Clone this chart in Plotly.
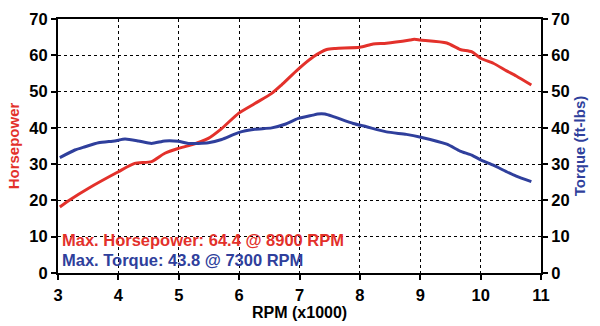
import plotly.graph_objects as go

rpm_hp = [3.03, 3.2, 3.5, 4.0, 4.27, 4.55, 4.77, 4.99, 5.21, 5.49, 5.71, 5.99, 6.26, 6.54, 6.70, 6.98,
          7.23, 7.45, 7.6, 8.0, 8.22, 8.44, 8.83, 8.9, 9.0, 9.44, 9.66, 9.85, 10.01, 10.21, 10.43, 10.59, 10.84]
hp = [18.2, 20.2, 23.3, 27.9, 30.2, 30.7, 33.0, 34.3, 35.3, 37.1, 39.8, 44.0, 46.7, 49.5, 51.8, 56.2,
      59.6, 61.6, 61.9, 62.2, 63.1, 63.3, 64.2, 64.4, 64.2, 63.4, 61.6, 61.0, 59.1, 57.8, 55.7, 54.3, 51.8]

rpm_tq = [3.03, 3.28, 3.45, 3.67, 3.94, 4.11, 4.33, 4.55, 4.77, 4.99, 5.16, 5.49, 5.71, 5.99, 6.26, 6.54,
          6.76, 6.98, 7.22, 7.3, 7.42, 7.56, 7.89, 8.11, 8.44, 8.77, 8.99, 9.44, 9.66, 9.85, 10.01, 10.21,
          10.43, 10.59, 10.84]
torque = [31.8, 33.9, 34.8, 35.9, 36.4, 36.9, 36.4, 35.7, 36.4, 36.3, 35.7, 35.9, 36.8, 38.7, 39.6, 40.0,
          41.0, 42.6, 43.5, 43.8, 43.8, 43.1, 41.2, 40.3, 38.9, 38.2, 37.5, 35.5, 33.6, 32.5, 31.1, 29.7,
          27.9, 26.7, 25.2]

x_ticks = [3, 4, 5, 6, 7, 8, 9, 10, 11]
y_ticks = [0, 10, 20, 30, 40, 50, 60, 70]

RED = "#e3312b"
BLUE = "#2f3f9c"
FONT = "Liberation Sans, Arial, sans-serif"

fig = go.Figure()
fig.add_trace(go.Scatter(x=rpm_hp, y=hp, mode="lines", line=dict(color=RED, width=3, shape="spline", smoothing=0.6),
                         showlegend=False))
fig.add_trace(go.Scatter(x=rpm_tq, y=torque, mode="lines", line=dict(color=BLUE, width=3, shape="spline", smoothing=0.6),
                         showlegend=False, yaxis="y2"))

axis_common = dict(
    showline=True, linecolor="black", linewidth=2,
    ticks="outside", ticklen=5, tickwidth=1.5, tickcolor="black",
    tickfont=dict(family=FONT, size=16.5, color="black", weight="bold"),
    zeroline=False, automargin=False,
)

fig.update_layout(
    width=600, height=326,
    margin=dict(l=58, r=59, t=19, b=53),
    paper_bgcolor="white", plot_bgcolor="white",
    xaxis=dict(range=[3, 11], tickvals=x_ticks, showgrid=True, gridcolor="black", griddash="dot", gridwidth=1.3,
               mirror=True, ticklabelstandoff=1,
               **axis_common),
    yaxis=dict(range=[0, 70], tickvals=y_ticks, showgrid=True, gridcolor="black", griddash="dot", gridwidth=1.3,
               title=dict(text="Horsepower", font=dict(family=FONT, size=15, color=RED, weight="bold"), standoff=6),
               **axis_common),
    yaxis2=dict(range=[0, 70], tickvals=y_ticks, overlaying="y", side="right", showgrid=False,
                title=dict(text="Torque (ft-lbs)", font=dict(family=FONT, size=15, color=BLUE, weight="bold"), standoff=6),
                **axis_common),
    annotations=[
        dict(xref="paper", yref="paper", x=0.5, y=(273 - 312) / 254, xanchor="center", yanchor="middle",
             text="RPM (x1000)", showarrow=False,
             font=dict(family=FONT, size=16, color="black", weight="bold")),
        dict(xref="paper", yref="paper", x=0.004, y=(273 - 240) / 254, xanchor="left", yanchor="middle",
             text="Max. Horsepower: 64.4 @ 8900 RPM", showarrow=False,
             font=dict(family=FONT, size=16.5, color=RED, weight="bold")),
        dict(xref="paper", yref="paper", x=0.004, y=(273 - 260) / 254, xanchor="left", yanchor="middle",
             text="Max. Torque: 43.8 @ 7300 RPM", showarrow=False,
             font=dict(family=FONT, size=16.5, color=BLUE, weight="bold")),
    ],
)

fig.write_html("out.html")
